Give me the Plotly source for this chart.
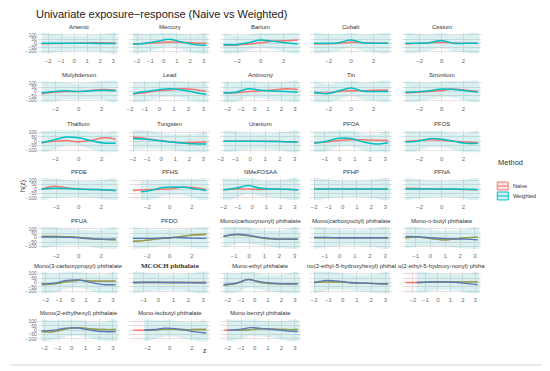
import numpy as np
import plotly.graph_objects as go

FACETS = [
    "Arsenic", "Mercury", "Barium", "Cobalt", "Cesium",
    "Molybdenum", "Lead", "Antimony", "Tin", "Strontium",
    "Thallium", "Tungsten", "Uranium", "PFOA", "PFOS",
    "PFDE", "PFHS", "NMeFOSAA", "PFHP", "PFNA",
    "PFUA", "PFDO", "Mono(carboxynonyl) phthalate", "Mono(carboxyoctyl) phthalate", "Mono-n-butyl phthalate",
    "Mono(3-carboxypropyl) phthalate", "MCOCH phthalate", "Mono-ethyl phthalate",
    "no(2-ethyl-5-hydroxyhexyl) phthal", "o(2-ethyl-5-hydroxy-nonyl) phtha",
    "Mono(2-ethylhexyl) phthalate", "Mono-isobutyl phthalate", "Mono-benzyl phthalate",
]

# z range of the naive fit, the weighted fit, and the common upper end
Z_MIN_N = [-2.5, -2.3, -3.2, -3.3, -3.3,
           -3.2, -1.8, -2.3, -3.3, -3.3,
           -3.2, -2.0, -1.8, -1.7, -3.3,
           -3.3, -3.3, -2.0, -2.0, -3.3,
           -3.3, -3.3, -1.7, -1.7, -1.7,
           -2.3, -1.7, -2.3, -2.0, -2.6,
           -2.2, -3.3, -2.3]
Z_MIN_W = [-2.5, -2.3, -3.2, -3.3, -3.3,
           -3.2, -1.8, -2.3, -3.3, -3.3,
           -3.2, -2.0, -1.8, -1.7, -3.3,
           -3.3, -2.6, -2.0, -2.0, -3.3,
           -3.3, -3.3, -1.7, -1.7, -1.7,
           -2.3, -1.7, -2.3, -2.0, -1.7,
           -2.2, -2.3, -2.0]
Z_MAX = [3.2, 3.2, 3.2, 3.3, 3.3,
         3.2, 3.2, 3.2, 3.3, 3.3,
         3.2, 3.2, 3.2, 3.2, 3.3,
         3.3, 3.3, 3.2, 3.2, 3.3,
         3.3, 3.3, 3.2, 3.2, 3.2,
         3.2, 3.2, 3.2, 3.2, 3.2,
         3.2, 3.3, 3.2]
X_DTICK = [1, 1, 2, 2, 2,
           2, 1, 1, 2, 2,
           2, 1, 1, 1, 2,
           2, 2, 1, 1, 2,
           2, 2, 1, 1, 1,
           1, 1, 1, 1, 1,
           1, 2, 1]

# h(z) read at 7 evenly spaced z values across each fit's range
NAIVE_H = [
    [-5, -3, 0, 3, 6, 8, 5], [-8, -3, 8, 16, 13, 5, 0], [-24, -19, -8, 8, 24, 32, 40],
    [-8, -5, 0, 13, 8, 3, 0], [-8, 0, 8, 13, 5, 0, 0],
    [-24, -8, 0, 0, 13, 24, 16], [-24, -13, 8, 19, 32, 24, 3], [-16, -13, 0, 8, 19, 32, 24],
    [-16, -16, 0, 8, 8, 16, 16], [-16, -8, 0, 13, 29, 16, 5],
    [-16, 0, 8, -5, 8, 40, 24], [48, 32, 13, -5, -16, -13, -8], [0, 0, 0, 0, 0, -5, -8],
    [-16, -8, 8, 16, 16, 13, 8], [0, 8, 16, 13, 0, -8, -16],
    [0, 32, 13, 0, -5, -8, -16], [-16, -8, -5, 0, 19, 16, -8], [-8, 0, 0, -5, 0, -3, -8],
    [0, 0, 0, 0, 0, 0, -3], [8, 5, 3, 0, -3, -6, -8],
    [16, 16, 13, 5, -8, -19, -24], [-40, -29, -13, 0, 16, 32, 40], [16, 35, 24, 0, -13, -16, -16],
    [0, 0, 0, 0, 0, 0, 0], [0, 8, -8, -24, -16, 0, 8],
    [-24, -16, 8, 24, 19, 16, 16], [0, 0, 0, 0, 0, 0, 0], [-29, -13, 35, 0, -13, -16, -16],
    [0, 8, 5, -3, -8, -13, -16], [0, 0, 5, 8, 8, 8, 8],
    [-16, -16, 16, 29, 16, 8, 8], [0, 0, 5, 13, 8, 8, 8], [0, 0, 5, 16, 13, 8, 8],
]
WEIGHTED_H = [
    [0, 0, 0, 0, 0, -2, -3], [-8, 0, 24, 48, 16, -13, -24], [-16, -16, 8, 40, 24, 8, -8],
    [0, 0, 8, 40, 3, 0, 0], [0, 0, 8, 35, 0, 0, 0],
    [-16, 0, 8, 0, 8, 16, 8], [-24, 0, 19, 32, 19, -8, -32], [-16, -8, 32, 16, 5, 0, -8],
    [-8, -24, 8, 40, 3, 0, 0], [-8, -3, 8, 29, 24, 8, -8],
    [-16, 16, 48, 40, 8, -19, -24], [32, 24, 8, -8, -19, -29, -32], [0, 0, 0, 0, -3, -5, -8],
    [-24, 0, 35, 32, -8, -32, -16], [-8, 0, 29, 24, 0, -24, -24],
    [0, 8, 5, 0, -5, -8, -16], [-32, -13, 16, 24, 19, 0, -16], [-8, 8, 40, 8, 0, -3, -8],
    [0, 0, 0, 0, 0, 0, 0], [0, 0, 0, 0, 0, -3, -5],
    [8, 8, 5, 0, -13, -16, -13], [-8, -8, -5, 0, 0, -5, -8], [16, 40, 29, 3, -13, -16, -16],
    [3, 3, 0, 0, 0, 0, 0], [16, 13, 0, -8, -13, -16, -24],
    [-16, -8, 24, 29, 0, -24, -24], [0, 3, 3, 0, 0, -3, -5], [-24, -8, 32, 8, -8, -16, -16],
    [0, 24, 16, 0, -8, -13, -16], [0, 5, 8, 5, 0, -13, -24],
    [-8, 0, 24, 24, 0, -16, -16], [0, 8, 24, 19, 0, -19, -32], [0, 8, 29, 19, 8, -8, -16],
]
# 95% band half-width (same profile for all exposures)
BAND_HALF = [135, 110, 95, 90, 95, 110, 135]
# colour scheme used in each panel (0 = red/teal, 1 = green/blue)
SCHEME = [0] * 20 + [1] * 13

Y_TICKS = [-100, -50, 0, 50, 100]
METHODS = ["Naive", "Weighted"]

# the page body adds an 8px margin, so the figure is drawn 8px smaller
OFF = 8
W, H = 550 - OFF, 371 - OFF
COL_X = [(35, 117), (127, 208), (218, 300), (309, 391), (401, 481)]
ROW_Y = [(32, 53), (80, 102), (130, 152), (178, 200), (227, 249), (272, 294), (320, 342)]

RED, TEAL = "#F8766D", "#00BFC4"
GREEN, BLUE = "#7FA64A", "#5577B8"
RED_FILL = "rgba(248,118,109,0.05)"
TEAL_FILL = "rgba(0,191,196,0.14)"


def px(x):
    return (x - OFF) / W


def py(y):
    return 1 - (y - OFF) / H


fig = go.Figure()
layout = {}
annotations = []

for i, name in enumerate(FACETS):
    r, c = divmod(i, 5)
    k = i + 1
    xa = "x" if k == 1 else f"x{k}"
    ya = "y" if k == 1 else f"y{k}"
    zn = np.linspace(Z_MIN_N[i], Z_MAX[i], len(NAIVE_H[i]))
    zw = np.linspace(Z_MIN_W[i], Z_MAX[i], len(WEIGHTED_H[i]))
    hn = np.array(NAIVE_H[i], dtype=float)
    hw = np.array(WEIGHTED_H[i], dtype=float)
    band = np.array(BAND_HALF, dtype=float)

    for z, h, fill in ((zn, hn, RED_FILL), (zw, hw, TEAL_FILL)):
        fig.add_trace(go.Scatter(
            x=np.concatenate([z, z[::-1]]),
            y=np.concatenate([h + band, (h - band)[::-1]]),
            fill="toself", fillcolor=fill, line=dict(width=0, shape="spline"),
            mode="lines", hoverinfo="skip", showlegend=False, xaxis=xa, yaxis=ya))

    if SCHEME[i] == 0:
        fig.add_trace(go.Scatter(x=zn, y=hn, mode="lines", line=dict(color=RED, width=1.5, shape="spline"),
                                 showlegend=False, xaxis=xa, yaxis=ya))
        fig.add_trace(go.Scatter(x=zw, y=hw, mode="lines", line=dict(color=TEAL, width=1.5, shape="spline"),
                                 showlegend=False, xaxis=xa, yaxis=ya))
    else:
        fig.add_trace(go.Scatter(x=zn, y=hn, mode="lines", line=dict(color=RED, width=1.3, shape="spline"),
                                 showlegend=False, xaxis=xa, yaxis=ya))
        keep = zn >= Z_MIN_W[i] - 1e-9
        fig.add_trace(go.Scatter(x=zn[keep], y=hn[keep], mode="lines",
                                 line=dict(color=GREEN, width=1.3, shape="spline"),
                                 showlegend=False, xaxis=xa, yaxis=ya))
        fig.add_trace(go.Scatter(x=zw, y=hw, mode="lines", line=dict(color=BLUE, width=1.3, shape="spline"),
                                 showlegend=False, xaxis=xa, yaxis=ya))

    lo = min(Z_MIN_N[i], Z_MIN_W[i])
    pad = 0.05 * (Z_MAX[i] - lo)
    x0, x1 = COL_X[c]
    y0, y1 = ROW_Y[r]
    layout["xaxis" if k == 1 else f"xaxis{k}"] = dict(
        domain=[px(x0), px(x1)], anchor=ya, range=[lo - pad, Z_MAX[i] + pad],
        tick0=0, dtick=X_DTICK[i], showgrid=True, gridcolor="#E3E3E3", gridwidth=0.6,
        zeroline=False, showline=False, ticks="", ticklabelstandoff=2,
        tickfont=dict(size=6, color="#6E6E6E", family="Liberation Sans"))
    layout["yaxis" if k == 1 else f"yaxis{k}"] = dict(
        domain=[py(y1), py(y0)], anchor=xa, range=[-125, 125],
        tickvals=Y_TICKS, showticklabels=(c == 0), showgrid=True, gridcolor="#E3E3E3",
        gridwidth=0.6, zeroline=False, showline=False, ticks="",
        tickfont=dict(size=5, color="#6E6E6E", family="Liberation Sans"))
    is_serif = name == "MCOCH phthalate"
    annotations.append(dict(
        text=f"<b>{name}</b>" if is_serif else name, x=px((x0 + x1) / 2), y=py(y0 - 6),
        xref="paper", yref="paper", showarrow=False, xanchor="center", yanchor="middle",
        font=dict(size=7 if is_serif else 6, color="#333333",
                  family="Liberation Serif" if is_serif else "Liberation Sans")))

annotations += [
    dict(text="Univariate exposure\u2212response (Naive vs Weighted)", x=px(31), y=py(13),
         xref="paper", yref="paper", showarrow=False, xanchor="left", yanchor="middle",
         font=dict(size=11, color="#222222", family="Liberation Sans")),
    dict(text="z", x=px(203), y=py(357), xref="paper", yref="paper", showarrow=False,
         font=dict(size=7, color="#333333", family="Liberation Sans")),
    dict(text="h(z)", x=px(14), y=py(186), xref="paper", yref="paper", showarrow=False,
         textangle=-90, font=dict(size=7, color="#333333", family="Liberation Sans")),
    dict(text="Method", x=px(496), y=py(162), xref="paper", yref="paper", showarrow=False,
         xanchor="left", font=dict(size=7.5, color="#333333", family="Liberation Sans")),
]

shapes = []
for j, (m, col, fill) in enumerate(zip(METHODS, [RED, TEAL], ["rgba(248,118,109,0.2)", "rgba(0,191,196,0.2)"])):
    yc = 186 + j * 10
    shapes.append(dict(type="rect", xref="paper", yref="paper", x0=px(497), x1=px(508),
                       y0=py(yc + 4), y1=py(yc - 4), fillcolor=fill, line=dict(color=col, width=1)))
    shapes.append(dict(type="line", xref="paper", yref="paper", x0=px(497), x1=px(508),
                       y0=py(yc), y1=py(yc), line=dict(color=col, width=1)))
    annotations.append(dict(text=m, x=px(511), y=py(yc), xref="paper", yref="paper",
                            showarrow=False, xanchor="left", yanchor="middle",
                            font=dict(size=5.5, color="#333333", family="Liberation Sans")))

shapes.append(dict(type="line", xref="paper", yref="paper", x0=px(546), x1=px(546), y0=py(8), y1=py(366),
                   line=dict(color="#D6D6D6", width=1)))
shapes.append(dict(type="line", xref="paper", yref="paper", x0=px(8), x1=px(546), y0=py(366), y1=py(366),
                   line=dict(color="#D6D6D6", width=1)))

fig.update_layout(
    width=W, height=H, margin=dict(l=0, r=0, t=0, b=0),
    paper_bgcolor="white", plot_bgcolor="white", showlegend=False,
    annotations=annotations, shapes=shapes, **layout)

fig.write_html("out.html")
